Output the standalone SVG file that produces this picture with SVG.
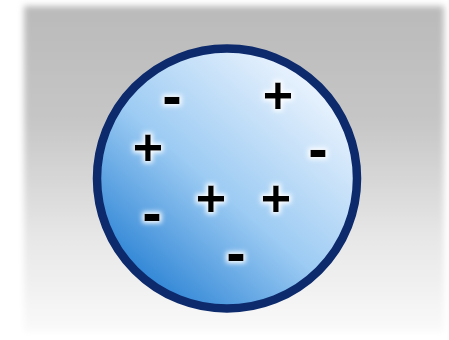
<svg xmlns="http://www.w3.org/2000/svg" width="449" height="340" viewBox="0 0 449 340">
<defs>
<linearGradient id="bg" x1="0" y1="0" x2="0" y2="1">
<stop offset="0" stop-color="#bababa"/>
<stop offset="0.35" stop-color="#c6c6c6"/>
<stop offset="0.7" stop-color="#e6e6e6"/>
<stop offset="1" stop-color="#fafafa"/>
</linearGradient>
<linearGradient id="ball" x1="0.15" y1="0.9" x2="0.85" y2="0.1">
<stop offset="0" stop-color="#2a82d4"/>
<stop offset="0.45" stop-color="#9ccbf3"/>
<stop offset="1" stop-color="#eef5fe"/>
</linearGradient>
<filter id="soft" x="-10%" y="-10%" width="120%" height="120%">
<feGaussianBlur stdDeviation="3"/>
</filter>
<filter id="glow" x="-50%" y="-50%" width="200%" height="200%">
<feMorphology in="SourceAlpha" operator="dilate" radius="2" result="d"/>
<feGaussianBlur in="d" stdDeviation="2.5" result="b"/>
<feFlood flood-color="#ffffff"/>
<feComposite in2="b" operator="in" result="w"/>
<feMerge><feMergeNode in="w"/><feMergeNode in="SourceGraphic"/></feMerge>
</filter>
<style>
.s{font-family:"Liberation Sans",Arial,sans-serif;font-weight:bold;fill:#000;text-anchor:middle;filter:url(#glow)}
.p{font-size:52px}
.m{font-size:60px}
</style>
</defs>
<rect width="449" height="340" fill="#ffffff"/>
<rect x="24" y="6" width="420" height="326" fill="url(#bg)" filter="url(#soft)"/>
<g id="sphere">
<circle cx="227" cy="178.5" r="130" fill="url(#ball)" stroke="#0c2a6c" stroke-width="8.5"/>
</g>
<g id="charges">
<text class="s m" x="172" y="116">-</text>
<text class="s p" x="278" y="112.5">+</text>
<text class="s p" x="148" y="164.5">+</text>
<text class="s m" x="318" y="169">-</text>
<text class="s p" x="211" y="215.5">+</text>
<text class="s p" x="276" y="215.5">+</text>
<text class="s m" x="152" y="233">-</text>
<text class="s m" x="236" y="273">-</text>
</g>
</svg>
